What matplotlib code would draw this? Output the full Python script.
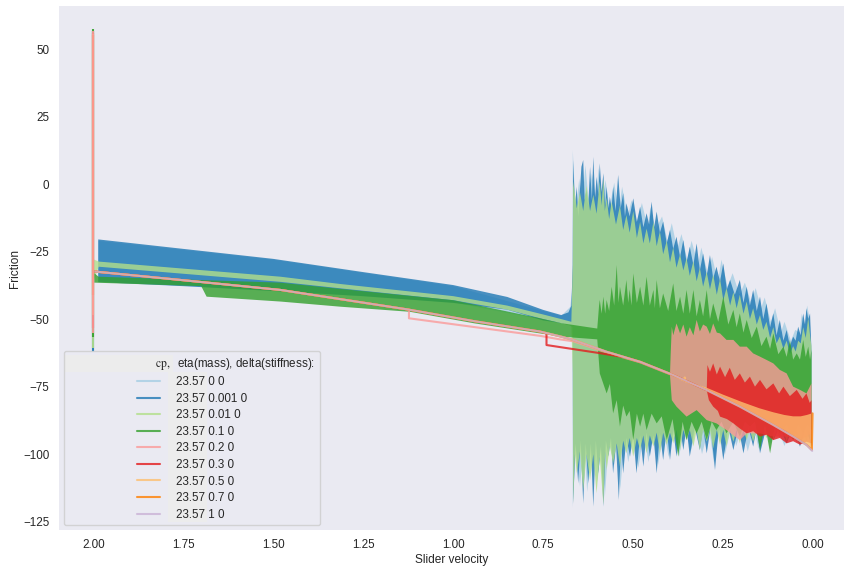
import numpy as np
import matplotlib
matplotlib.use("Agg")
import matplotlib.pyplot as plt
import seaborn as sns
from matplotlib.lines import Line2D
from matplotlib.patches import Rectangle

sns.set_style("dark")
plt.rcParams["font.family"] = ["Liberation Sans", "DejaVu Sans"]

# ---------------------------------------------------------------- data
cp = "23.57"
etas = ["0", "0.001", "0.01", "0.1", "0.2", "0.3", "0.5", "0.7", "1"]
deltas = ["0"] * 9
colors = ["#a6cee3", "#1f78b4", "#b2df8a", "#33a02c", "#fb9a99",
          "#e31a1c", "#fdbf6f", "#ff7f00", "#cab2d6"]

x_ticks = [2.0, 1.75, 1.5, 1.25, 1.0, 0.75, 0.5, 0.25, 0.0]
y_ticks = [-125, -100, -75, -50, -25, 0, 25, 50]

# start-up transient at v = 2.0 (top / bottom friction of each run)
v_start = 2.0
start_top = [56.5, 56.5, 56.8, 57.4, 56.7, 55.9, 55.5, 55.2, -32.4]
start_bottom = [-62.0, -61.8, -60.7, -56.6, -55.1, -53.3, -48.5, -41.1, -32.4]

# steady sliding friction (velocity, friction)
steady = [(1.995, -32.4), (1.75, -35.6), (1.48, -39.2), (1.314, -42.6),
          (1.123, -46.5), (0.94, -50.8), (0.759, -54.6), (0.70, -56.5),
          (0.667, -57.7), (0.574, -62.1), (0.481, -65.8), (0.389, -70.7),
          (0.296, -76.3), (0.204, -82.4), (0.111, -89.2), (0.0555, -93.5),
          (0.0185, -96.6), (0.003, -98.8)]

# eta = 0 : oscillation envelope
lblue_upper = [(1.986, -21.0), (1.5, -28.0), (1.0, -37.8), (0.75, -47.0), (0.70, -48.8),
               (0.675, -45.5), (0.669, -38.5),
               (0.668, 12.6), (0.660, -10), (0.650, 2.0), (0.642, -8), (0.633, 7.0),
               (0.624, -6), (0.615, 4.0), (0.604, -5), (0.596, 6.0), (0.585, -6),
               (0.577, 1.5), (0.566, -9), (0.553, 0.5), (0.540, -10), (0.531, -1.0),
               (0.515, -12), (0.505, -6.0), (0.490, -14), (0.476, -7.0), (0.460, -16),
               (0.452, -8.5), (0.438, -17), (0.420, -12.0), (0.405, -21), (0.393, -14.5),
               (0.378, -24), (0.366, -18.5), (0.350, -28), (0.338, -21.0), (0.320, -30),
               (0.311, -23.5), (0.293, -33), (0.281, -27.0), (0.265, -36), (0.255, -28.0),
               (0.238, -38), (0.224, -33.0), (0.205, -41), (0.190, -36.5), (0.172, -44),
               (0.160, -38.5), (0.145, -46), (0.135, -42.0), (0.118, -51), (0.106, -46.0),
               (0.090, -55), (0.080, -51.0), (0.062, -58), (0.050, -54.0), (0.038, -55),
               (0.032, -48.0), (0.024, -52), (0.017, -45.0), (0.010, -50), (0.005, -60.0)]
lblue_lower = [(1.986, -36.0), (1.5, -39.4), (1.0, -43.8), (0.75, -50.3), (0.70, -51.3),
               (0.669, -52.8),
               (0.668, -119.8), (0.660, -96), (0.648, -112), (0.636, -96), (0.628, -114),
               (0.615, -96), (0.600, -110), (0.588, -96), (0.579, -116), (0.568, -95),
               (0.553, -104), (0.545, -95), (0.536, -113), (0.524, -94), (0.514, -103),
               (0.500, -93), (0.486, -105), (0.470, -92), (0.458, -103), (0.446, -92),
               (0.431, -104), (0.415, -91), (0.402, -101), (0.385, -90), (0.373, -101),
               (0.357, -90), (0.340, -99), (0.325, -90), (0.309, -100), (0.290, -90),
               (0.276, -103), (0.260, -90), (0.245, -100), (0.228, -90), (0.214, -97),
               (0.198, -90), (0.182, -99), (0.165, -90), (0.152, -98), (0.135, -90),
               (0.118, -96), (0.100, -90), (0.080, -97), (0.060, -90), (0.045, -96),
               (0.025, -90), (0.005, -96)]

# eta = 0.001
blue_upper = [(1.986, -20.5), (1.75, -24.0), (1.5, -27.7), (1.25, -32.6), (1.0, -37.4),
              (0.85, -41.8), (0.75, -46.6), (0.70, -48.5), (0.68, -47.5), (0.672, -45.0),
              (0.668, -30.0),
              (0.667, 8.9), (0.662, -8), (0.657, -1.0), (0.653, -12.1), (0.644, 6.4),
              (0.639, 8.9), (0.635, -6), (0.630, -2.2), (0.625, -8), (0.620, 6.4),
              (0.615, -6), (0.611, 10.1), (0.606, -5), (0.602, 2.7), (0.597, -4),
              (0.593, 7.7), (0.588, -3), (0.583, 4.0), (0.578, -8), (0.574, -1.0),
              (0.569, -9), (0.565, -4.7), (0.560, -9), (0.556, -1.0), (0.549, -10),
              (0.542, 3.4), (0.535, -9), (0.528, -3.4), (0.523, -12), (0.519, -7.1),
              (0.510, -12), (0.500, -5.3), (0.490, -14), (0.481, -8.4), (0.472, -16),
              (0.463, -10.8), (0.456, -15), (0.449, -6.5), (0.442, -16), (0.435, -10.2),
              (0.426, -18), (0.417, -13.9), (0.407, -22), (0.398, -17.0), (0.389, -24),
              (0.380, -19.5), (0.370, -27), (0.361, -20.7), (0.352, -29), (0.343, -23.2),
              (0.333, -30), (0.324, -22.0), (0.315, -32), (0.306, -25.7), (0.296, -34),
              (0.287, -26.3), (0.278, -35), (0.269, -30.6), (0.259, -36), (0.250, -29.4),
              (0.240, -39), (0.231, -35.5), (0.218, -41), (0.204, -35.5), (0.194, -44),
              (0.185, -38.0), (0.176, -45), (0.167, -39.2), (0.157, -47), (0.148, -41.7),
              (0.139, -50), (0.130, -44.2), (0.120, -53), (0.111, -47.9), (0.102, -56),
              (0.093, -50.3), (0.083, -58), (0.074, -54.0), (0.065, -60), (0.056, -56.5),
              (0.049, -58), (0.042, -52.8), (0.035, -56), (0.028, -47.9), (0.023, -52),
              (0.019, -46.0), (0.014, -50), (0.009, -47.9), (0.005, -62.7)]
blue_lower = [(1.986, -36.3), (1.75, -37.8), (1.5, -39.6), (1.25, -41.5), (1.0, -44.0),
              (0.85, -46.5), (0.75, -50.5), (0.70, -51.5), (0.675, -52.2), (0.668, -53.0),
              (0.667, -118.2), (0.660, -96), (0.653, -110.8), (0.646, -95), (0.639, -118.2),
              (0.632, -96), (0.625, -110.8), (0.618, -96), (0.611, -119.4), (0.604, -95),
              (0.597, -107.1), (0.590, -97), (0.583, -119.4), (0.576, -95), (0.569, -100.9),
              (0.562, -94), (0.556, -107.1), (0.548, -96), (0.540, -117.0), (0.534, -95),
              (0.528, -107.1), (0.519, -94), (0.509, -100.9), (0.500, -93), (0.491, -107.1),
              (0.481, -93), (0.472, -104.6), (0.463, -92), (0.454, -100.9), (0.444, -93),
              (0.435, -107.1), (0.426, -92), (0.417, -102.2), (0.407, -91), (0.398, -102.2),
              (0.389, -91), (0.380, -100.9), (0.370, -90), (0.361, -98.5), (0.352, -90),
              (0.343, -100.9), (0.329, -90), (0.315, -98.5), (0.306, -90), (0.296, -99.7),
              (0.285, -90), (0.273, -105.9), (0.262, -90), (0.250, -102.2), (0.236, -90),
              (0.222, -98.5), (0.208, -90), (0.194, -99.7), (0.180, -90), (0.167, -97.2),
              (0.157, -90), (0.148, -99.7), (0.130, -90), (0.111, -94.8), (0.093, -90),
              (0.074, -96.0), (0.056, -90), (0.037, -97.2), (0.020, -90), (0.005, -97.2)]

# eta = 0.01
lgreen_upper = [(1.997, -28.0), (1.985, -28.7), (1.48, -34.3), (1.314, -37.0), (1.0, -41.5),
                (0.85, -45.0), (0.75, -48.3), (0.70, -50.0), (0.672, -51.0), (0.668, -30.0),
                (0.667, 1.0), (0.657, -9), (0.648, -3.0), (0.639, -10), (0.630, -0.5),
                (0.620, -10), (0.611, -4.0), (0.602, -11), (0.593, 1.0), (0.588, -8),
                (0.583, 2.0), (0.579, -10), (0.574, -5.0), (0.567, -13), (0.560, -6.5),
                (0.548, -15), (0.537, -8.0), (0.528, -17), (0.519, -11.5), (0.510, -18),
                (0.500, -10.0), (0.490, -20), (0.481, -14.0), (0.472, -22), (0.463, -16.5),
                (0.454, -22), (0.444, -14.0), (0.435, -23), (0.426, -17.5), (0.417, -26),
                (0.407, -21.0), (0.398, -29), (0.389, -23.5), (0.380, -31), (0.370, -26.0),
                (0.361, -32), (0.352, -27.5), (0.343, -34), (0.333, -28.5), (0.324, -36),
                (0.315, -31.0), (0.306, -38), (0.296, -32.5), (0.287, -39), (0.278, -33.5),
                (0.268, -41), (0.259, -35.0), (0.250, -43), (0.241, -38.5), (0.231, -45),
                (0.222, -40.0), (0.213, -46), (0.204, -41.0), (0.194, -48), (0.185, -43.5),
                (0.176, -50), (0.167, -46.0), (0.157, -52), (0.148, -48.5), (0.139, -54),
                (0.130, -51.0), (0.120, -57), (0.111, -53.0), (0.102, -59), (0.093, -56.5),
                (0.083, -61), (0.074, -58.0), (0.065, -63), (0.056, -60.0), (0.049, -62),
                (0.042, -58.0), (0.035, -59), (0.028, -53.0), (0.021, -57), (0.014, -49.5),
                (0.009, -56), (0.005, -60.0)]
lgreen_lower = [(1.997, -35.5), (1.985, -30.6), (1.48, -36.2), (1.314, -38.6), (1.0, -43.0),
                (0.85, -46.5), (0.75, -50.0), (0.70, -51.5), (0.672, -52.5), (0.668, -70.0),
                (0.667, -118.2), (0.662, -100), (0.657, -107.1), (0.648, -99), (0.639, -113.3),
                (0.630, -100), (0.620, -109.6), (0.611, -100), (0.602, -114.5), (0.593, -101),
                (0.583, -118.8), (0.578, -99), (0.574, -105.9), (0.565, -97), (0.556, -103.4),
                (0.546, -96), (0.537, -104.6), (0.528, -95), (0.519, -99.7), (0.510, -94),
                (0.500, -100.9), (0.490, -94), (0.481, -98.5), (0.472, -93), (0.463, -99.7),
                (0.454, -93), (0.444, -97.2), (0.435, -92), (0.426, -99.7), (0.417, -92),
                (0.407, -96.6), (0.398, -92), (0.389, -96.0), (0.380, -91), (0.370, -98.5),
                (0.361, -91), (0.352, -94.8), (0.343, -91), (0.333, -97.2), (0.324, -91),
                (0.315, -98.5), (0.306, -91), (0.296, -95.4), (0.287, -91), (0.278, -97.9),
                (0.268, -91), (0.259, -96.6), (0.250, -91), (0.241, -97.2), (0.231, -91),
                (0.222, -95.4), (0.213, -91), (0.204, -96.0), (0.194, -91), (0.185, -94.8),
                (0.176, -91), (0.167, -95.4), (0.157, -91), (0.148, -94.8), (0.139, -91),
                (0.130, -94.1), (0.120, -91), (0.111, -94.8), (0.102, -91), (0.093, -94.1),
                (0.083, -91), (0.074, -95.4), (0.065, -91), (0.056, -94.8), (0.046, -91),
                (0.037, -96.6), (0.028, -91), (0.019, -95.4), (0.012, -91), (0.005, -96.0)]

# eta = 0.1
green_upper = [(1.997, -33.0), (1.985, -34.3), (1.48, -36.5), (1.314, -38.8), (1.0, -43.0),
               (0.759, -49.7), (0.70, -51.5), (0.60, -53.5), (0.595, -45.0), (0.593, -42.9),
               (0.588, -48), (0.583, -41.7), (0.578, -48), (0.574, -42.9), (0.567, -47),
               (0.560, -38.0), (0.553, -45), (0.546, -30.0), (0.541, -44), (0.537, -38.0),
               (0.528, -45), (0.519, -35.5), (0.514, -44), (0.510, -39.0), (0.505, -45),
               (0.500, -33.1), (0.490, -44), (0.481, -38.0), (0.472, -45), (0.463, -34.3),
               (0.454, -45), (0.444, -39.2), (0.440, -46), (0.435, -35.5), (0.426, -46),
               (0.417, -40.5), (0.403, -47), (0.389, -36.8), (0.380, -47), (0.370, -41.7),
               (0.361, -48), (0.352, -39.2), (0.343, -48), (0.333, -39.2), (0.324, -49),
               (0.315, -42.9), (0.306, -49), (0.296, -39.2), (0.287, -50), (0.278, -44.2),
               (0.264, -51), (0.250, -41.7), (0.236, -52), (0.222, -46.6), (0.213, -53),
               (0.204, -47.9), (0.194, -55), (0.185, -50.3), (0.171, -57), (0.157, -52.8),
               (0.144, -60), (0.130, -56.5), (0.120, -61), (0.111, -55.3), (0.097, -63),
               (0.083, -60.2), (0.074, -64), (0.065, -57.7), (0.056, -65), (0.046, -62.7),
               (0.037, -65), (0.028, -57.7), (0.021, -64), (0.014, -60.2), (0.009, -65),
               (0.005, -61.4)]
green_lower = [(1.997, -36.5), (1.70, -37.8), (1.685, -41.7), (1.48, -43.5), (1.314, -45.4),
               (1.12, -47.3), (0.94, -51.6), (0.759, -55.3), (0.70, -56.5), (0.60, -57.5),
               (0.593, -70.1), (0.574, -77.5), (0.565, -74), (0.556, -84.9), (0.546, -80),
               (0.537, -89.8), (0.528, -82), (0.519, -86.1), (0.510, -84), (0.500, -94.8),
               (0.490, -85), (0.481, -89.8), (0.472, -85), (0.463, -91.1), (0.449, -85),
               (0.435, -88.6), (0.421, -86), (0.407, -94.8), (0.391, -87), (0.375, -100.9),
               (0.363, -88), (0.352, -94.8), (0.338, -88), (0.324, -92.3), (0.310, -88),
               (0.296, -94.8), (0.282, -88), (0.269, -91.1), (0.255, -88), (0.241, -92.3),
               (0.222, -88), (0.204, -93.5), (0.190, -88), (0.176, -89.8), (0.162, -88),
               (0.148, -98.5), (0.134, -89), (0.120, -99.7), (0.106, -89), (0.093, -92.3),
               (0.074, -89), (0.056, -94.8), (0.042, -89), (0.028, -92.3), (0.016, -89),
               (0.005, -91.1)]

# eta = 0.2 : leaves the steady branch at v = 1.123
pink_branch = [(1.123, -49.7), (0.944, -52.9), (0.759, -56.2), (0.704, -57.5),
               (0.667, -58.2), (0.574, -62.4), (0.481, -66.0), (0.398, -70.4)]
pink_upper = [(0.398, -70.4), (0.396, -62.7), (0.393, -52.8), (0.389, -56.0), (0.380, -51.6),
              (0.370, -55.3), (0.361, -52.0), (0.352, -56.5), (0.343, -53.0), (0.333, -56.0),
              (0.324, -50.3), (0.315, -54.6), (0.306, -52.0), (0.296, -52.8), (0.287, -55.5),
              (0.278, -51.6), (0.268, -55.0), (0.259, -55.3), (0.241, -57.7), (0.222, -57.7),
              (0.204, -60.2), (0.185, -60.2), (0.167, -62.7), (0.148, -63.9), (0.130, -65.1),
              (0.111, -66.4), (0.093, -68.8), (0.074, -70.1), (0.056, -75.0), (0.037, -76.2),
              (0.019, -77.5), (0.005, -73.8)]
pink_lower = [(0.398, -70.7), (0.393, -80.0), (0.380, -82.4), (0.352, -86.1), (0.324, -83.7),
              (0.296, -87.4), (0.269, -88.6), (0.241, -91.1), (0.204, -94.8), (0.185, -92.3),
              (0.148, -92.3), (0.111, -93.5), (0.074, -93.5), (0.037, -94.8), (0.005, -92.3)]

# eta = 0.3 : leaves the steady branch at v = 0.741
red_branch = [(0.741, -55.2), (0.741, -59.6), (0.593, -62.6), (0.52, -64.2),
              (0.481, -65.8), (0.389, -70.7), (0.296, -76.3)]
red_upper = [(0.296, -76.3), (0.294, -67.0), (0.287, -69.5), (0.278, -66.4), (0.268, -70.5),
             (0.259, -67.6), (0.245, -71.5), (0.232, -68.0), (0.218, -72.5), (0.204, -70.1),
             (0.190, -73.5), (0.176, -71.3), (0.162, -75.0), (0.148, -72.5), (0.130, -76.0),
             (0.111, -73.8), (0.095, -77.5), (0.083, -75.0), (0.065, -78.5), (0.046, -76.2),
             (0.030, -79.5), (0.019, -77.5), (0.010, -81.0), (0.005, -80.0)]
red_lower = [(0.296, -76.3), (0.290, -80.0), (0.278, -82.4), (0.265, -84.0), (0.259, -86.1),
             (0.240, -87.0), (0.222, -88.6), (0.204, -90.5), (0.185, -92.3), (0.167, -91.5),
             (0.148, -93.5), (0.130, -92.8), (0.111, -94.8), (0.093, -94.0), (0.074, -96.0),
             (0.056, -95.2), (0.037, -96.5), (0.019, -95.4), (0.005, -96.0)]

# eta = 0.5 : leaves the steady branch at v = 0.357
lorange_branch = [(0.389, -70.7), (0.360, -72.7), (0.357, -71.6), (0.355, -73.0)]
lorange_upper = [(0.355, -73.0), (0.30, -75.2), (0.25, -78.0), (0.20, -80.6), (0.15, -83.0),
                 (0.111, -84.5), (0.08, -85.5), (0.056, -86.0), (0.035, -86.0),
                 (0.018, -85.5), (0.006, -85.0)]
lorange_lower = [(0.355, -73.4), (0.30, -76.0), (0.25, -79.3), (0.20, -82.6), (0.15, -86.3),
                 (0.111, -89.3), (0.08, -91.2), (0.056, -93.4), (0.035, -95.0),
                 (0.018, -96.5), (0.006, -98.0)]

# eta = 0.7 : jump at the very end of the run
orange_end = [(0.004, -98.4), (0.002, -84.9)]

# ---------------------------------------------------------------- figure
ALPHA = 0.8
FS = 8.4
fig = plt.figure(figsize=(8.44, 5.68), dpi=100)
ax = fig.add_axes([59 / 844, 38 / 568, 785 / 844, 524 / 568])


def xy(pairs):
    a = np.asarray(pairs, dtype=float)
    return a[:, 0], a[:, 1]


def band(upper, lower, color, z):
    uv, uf = xy(upper)
    lv, lf = xy(lower)
    ax.fill(np.r_[uv, lv[::-1]], np.r_[uf, lf[::-1]], color=color,
            alpha=ALPHA, lw=0, zorder=z)


def line(pairs, color, z):
    v, f = xy(pairs)
    ax.plot(v, f, color=color, alpha=ALPHA, lw=1.5, zorder=z)


def steady_before(v0):
    return [p for p in steady if p[0] > v0]


band(lblue_upper, lblue_lower, colors[0], 2.0)
band(blue_upper, blue_lower, colors[1], 2.1)
band(lgreen_upper, lgreen_lower, colors[2], 2.2)
band(green_upper, green_lower, colors[3], 2.3)

line(steady_before(1.123) + [(1.123, -46.5)] + pink_branch, colors[4], 2.4)
band(pink_upper, pink_lower, colors[4], 2.4)

line(steady_before(0.741) + red_branch, colors[5], 2.5)
band(red_upper, red_lower, colors[5], 2.5)

line(steady_before(0.389) + lorange_branch, colors[6], 2.6)
band(lorange_upper, lorange_lower, colors[6], 2.6)

line(steady_before(0.004) + orange_end, colors[7], 2.7)
line(steady, colors[8], 2.8)

# start-up transients (the eta = 0.2 run drawn last)
for k, i in enumerate([0, 1, 2, 3, 5, 6, 7, 8, 4]):
    ax.vlines(v_start, start_bottom[i], start_top[i], color=colors[i],
              lw=1.5, alpha=0.9, zorder=3 + 0.01 * k)

ax.set_xlim(2.095, -0.0853)
ax.set_ylim(-128.08, 65.92)
ax.set_xticks(x_ticks)
ax.set_xticklabels([f"{t:.2f}" for t in x_ticks])
ax.set_yticks(y_ticks)
ax.tick_params(axis="x", labelsize=FS, pad=6.5, length=0)
ax.tick_params(axis="y", labelsize=FS, pad=7, length=0)
ax.set_xlabel("Slider velocity", fontsize=8.6, labelpad=2)
ax.set_ylabel("Friction", fontsize=8.6, labelpad=1.5)
for s in ax.spines.values():
    s.set_visible(False)

handles = [Line2D([], [], color=c, lw=1.5, alpha=ALPHA) for c in colors]
labels = [f"{cp} {e} {d}" for e, d in zip(etas, deltas)]
title = (r"$\qquad\qquad\qquad\qquad\quad\;\;\;\;\;\mathrm{cp},$"
         "  eta(mass), delta(stiffness):")
leg = ax.legend(handles, labels, loc="lower left", title=title, fontsize=FS,
                title_fontsize=FS, labelspacing=0.39, handletextpad=1.3,
                frameon=True, borderaxespad=0.4)
leg.get_title().set_math_fontfamily("stix")
leg.get_frame().set_facecolor("none")
leg.get_frame().set_edgecolor("0.8")
leg.set_zorder(5)


def fig_rect(x0, y0, x1, y1):
    return Rectangle((x0 / 844, 1 - y1 / 568), (x1 - x0) / 844, (y1 - y0) / 568,
                     transform=fig.transFigure, facecolor="#ececec", lw=0, zorder=4.9)


ax.add_patch(fig_rect(63.5, 355.5, 173.3, 371.7))
ax.add_patch(fig_rect(168.3, 371.7, 206.7, 521.7))

fig.savefig("out.png", dpi=100)
